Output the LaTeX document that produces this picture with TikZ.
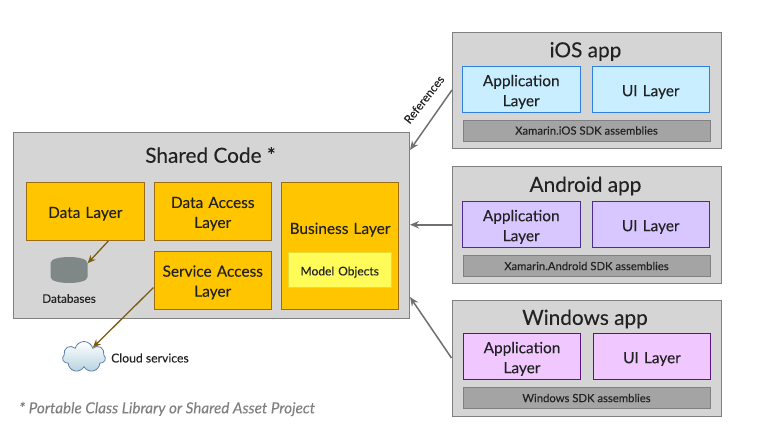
\documentclass[tikz,border=0pt]{standalone}
\usepackage{fontspec}
\setmainfont{Lato}[FakeBold=0.12]
\usetikzlibrary{arrows.meta,shapes.symbols}
\definecolor{panelfill}{HTML}{D5D5D5}
\definecolor{panelline}{HTML}{808080}
\definecolor{corefill}{HTML}{FFC600}
\definecolor{coreline}{HTML}{9C6C14}
\definecolor{modelfill}{HTML}{FFFB58}
\definecolor{modelline}{HTML}{E6DC34}
\definecolor{iosfill}{HTML}{C8EEFF}
\definecolor{iosline}{HTML}{2F80E0}
\definecolor{droidfill}{HTML}{D7C6FF}
\definecolor{droidline}{HTML}{4C2C94}
\definecolor{winfill}{HTML}{F0C8FF}
\definecolor{winline}{HTML}{5C1484}
\definecolor{sdkfill}{HTML}{A4A4A4}
\definecolor{dbfill}{HTML}{7F8787}
\definecolor{refline}{HTML}{707070}
\definecolor{dataline}{HTML}{7C5C10}
\definecolor{inktext}{HTML}{222222}
\tikzset{
	panel/.style={draw=panelline,fill=panelfill,line width=1pt,inner sep=0pt},
	title/.style={text=inktext,font=\fontsize{20.8}{24}\selectfont},
	layer/.style={line width=1pt,inner sep=0pt,align=center,text=inktext,text width=115pt,
		text height=15.5pt,font=\fontsize{15.4}{20}\selectfont},
	corebox/.style={layer,draw=coreline,fill=corefill,minimum width=117.5pt},
	appbox/.style={layer,text height=17pt,minimum width=117.5pt,minimum height=46pt},
	iosbox/.style={appbox,draw=iosline,fill=iosfill},
	droidbox/.style={appbox,draw=droidline,fill=droidfill},
	winbox/.style={appbox,draw=winline,fill=winfill},
	sdkbox/.style={draw=panelline,fill=sdkfill,line width=1pt,inner sep=0pt,text=inktext,
		minimum width=247pt,minimum height=21pt,font=\fontsize{11.3}{13}\selectfont},
	small/.style={text=inktext,inner sep=0pt,font=\fontsize{11.8}{14}\selectfont},
	refarrow/.style={draw=refline,line width=1.5pt,-{Stealth[length=9pt,width=7.5pt]}},
	dataarrow/.style={draw=dataline,line width=1.3pt,-{Stealth[length=8pt,width=7pt]}}
}
\begin{document}
\begin{tikzpicture}[x=1pt,y=-1pt]
	\useasboundingbox (0,0) rectangle (764,437);
	% shared code
	\node[panel,minimum width=396pt,minimum height=185.5pt] (shared) at (211.5,225.25) {};
	\node[title] (sharedtitle) at (210.5,155) {Shared Code *};
	\node[corebox,minimum height=58pt] (datalayer) at (85.25,211.5) {Data Layer};
	\node[corebox,minimum height=58pt] (dataaccess) at (212.75,211.5) {Data Access\\Layer};
	\node[corebox,minimum height=58pt] (serviceaccess) at (212.75,280.25) {Service Access\\Layer};
	\node[corebox,minimum height=126.5pt] (business) at (340,245.75) {};
	\node[layer] (businesstitle) at (340,227.5) {Business Layer};
	\node[layer,draw=modelline,fill=modelfill,text width=100pt,text height=13pt,minimum width=102.5pt,
		minimum height=35pt,font=\fontsize{12}{14}\selectfont] (model) at (339.75,270) {Model Objects};
	% database
	\node[inner sep=0pt,minimum width=37pt,minimum height=26pt] (db) at (69,270) {};
	\fill[dbfill] (50.5,263) .. controls (50.5,255) and (87.5,255) .. (87.5,263)
		-- (87.5,277) .. controls (87.5,285) and (50.5,285) .. (50.5,277) -- cycle;
	\node[small] (dbtext) at (69,298.5) {Databases};
	% cloud
	\node[cloud,cloud puffs=7,aspect=1.5,draw=iosline!40!gray,line width=0.8pt,top color=white,
		bottom color=iosfill!75!gray,minimum width=43pt,minimum height=31pt,inner sep=0pt] (cloudnode) at (84,357) {};
	\node[small,anchor=west,font=\fontsize{12.2}{14}\selectfont] (cloudtext) at (111,358) {Cloud services};
	\node[text=gray,inner sep=0pt,anchor=west,font=\fontsize{15.2}{18}\selectfont\itshape] (footnote) at (19,409)
		{* Portable Class Library or Shared Asset Project};
	% iOS
	\node[panel,minimum width=268.5pt,minimum height=116pt] (ios) at (586.75,90) {};
	\node[title] (iostitle) at (585.5,51.5) {iOS app};
	\node[iosbox] (iosapp) at (521.25,89) {Application\\Layer};
	\node[iosbox] (iosui) at (650.75,89) {UI Layer};
	\node[sdkbox] (iossdk) at (586.5,130.5) {Xamarin.iOS SDK assemblies};
	% Android
	\node[panel,minimum width=268.5pt,minimum height=116.5pt] (android) at (586.75,224.75) {};
	\node[title] (androidtitle) at (585.5,186) {Android app};
	\node[droidbox] (androidapp) at (521.25,224) {Application\\Layer};
	\node[droidbox] (androidui) at (650.75,224) {UI Layer};
	\node[sdkbox] (androidsdk) at (586.5,266) {Xamarin.Android SDK assemblies};
	% Windows
	\node[panel,minimum width=269pt,minimum height=116pt] (windows) at (586.5,358) {};
	\node[title] (windowstitle) at (585,319) {Windows app};
	\node[winbox] (windowsapp) at (522,356) {Application\\Layer};
	\node[winbox] (windowsui) at (652,356) {UI Layer};
	\node[sdkbox] (windowssdk) at (586.5,398) {Windows SDK assemblies};
	% connectors
	\coordinate (sharedtop) at (410,150);
	\coordinate (sharedbottom) at (410,297);
	\draw[refarrow] (ios.west) -- (sharedtop);
	\draw[refarrow] (android.west) -- (shared.east |- android.west);
	\draw[refarrow] (windows.west) -- (sharedbottom);
	\node[small,rotate=52] (reflabel) at (424,99.5) {References};
	\draw[dataarrow] (datalayer.-52) -- (db.20);
	\draw[dataarrow] (serviceaccess.187.75) -- (cloudnode.47);
\end{tikzpicture}
\end{document}
